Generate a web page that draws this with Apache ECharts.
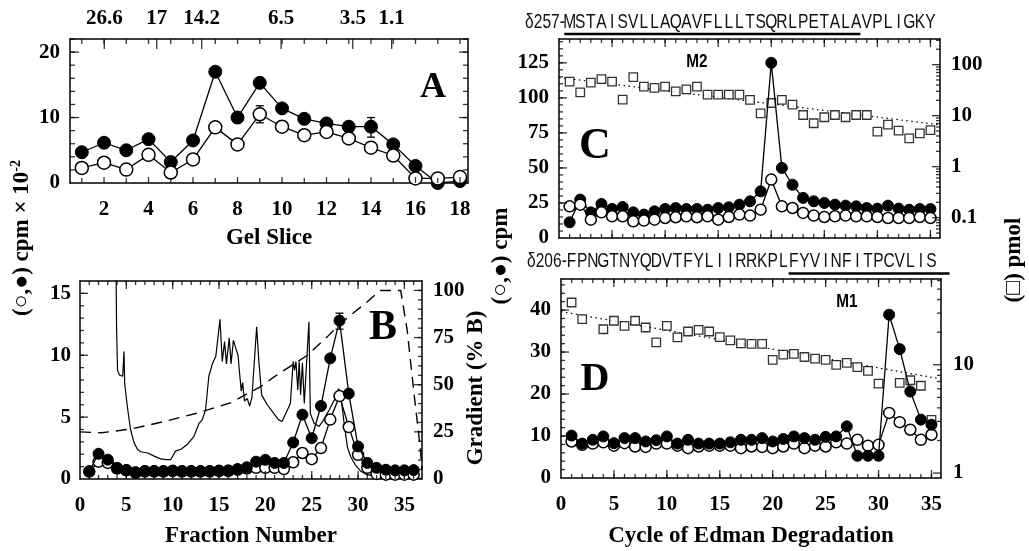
<!DOCTYPE html>
<html>
<head>
<meta charset="utf-8">
<script src="https://cdn.jsdelivr.net/npm/echarts@6/dist/echarts.min.js"></script>
<style>
  html, body { margin: 0; padding: 0; background: #fff; }
  #chart { width: 1029px; height: 551px; }
</style>
</head>
<body>
<div id="chart"></div>
<script>
// ---- panel A : gel slices ----
const sliceA = [1, 2, 3, 4, 5, 6, 7, 8, 9, 10, 11, 12, 13, 14, 15, 16, 17, 18];
const filledA = [4.7, 6.15, 5.0, 6.7, 3.2, 6.5, 17.0, 10.0, 15.3, 11.4, 9.8, 9.1, 8.6, 8.6, 5.9, 2.6, 0.0, 0.3];
const openA = [2.3, 3.1, 2.05, 4.3, 1.6, 3.6, 8.5, 5.9, 10.5, 8.6, 7.3, 7.8, 6.8, 5.4, 4.2, 0.7, 0.7, 0.9];
const errA = [[9, 9.2, 11.8], [13, 7.8, 9.2], [14, 7.0, 10.0]];
const mwPos = [2.01, 4.37, 6.39, 9.96, 13.18, 14.93];
const mwLabels = ['26.6', '17', '14.2', '6.5', '3.5', '1.1'];

// ---- panel B : HPLC fractions ----
const fracB = [1, 2, 3, 4, 5, 6, 7, 8, 9, 10, 11, 12, 13, 14, 15, 16, 17, 18, 19, 20, 21, 22, 23, 24, 25, 26, 27, 28, 29, 30, 31, 32, 33, 34, 35, 36];
const filledB = [0.62, 2.04, 1.56, 0.9, 0.72, 0.55, 0.65, 0.65, 0.65, 0.68, 0.65, 0.65, 0.65, 0.65, 0.68, 0.7, 0.8, 0.95, 1.4, 1.55, 1.3, 1.3, 2.95, 5.2, 3.3, 5.9, 9.75, 12.8, 6.9, 2.63, 1.3, 0.9, 0.75, 0.7, 0.7, 0.72];
const openB = [0.6, 1.4, 1.3, 0.85, 0.7, 0.5, 0.6, 0.6, 0.6, 0.65, 0.6, 0.6, 0.6, 0.6, 0.65, 0.65, 0.75, 0.85, 0.9, 0.9, 0.9, 0.8, 1.35, 2.1, 1.6, 2.5, 4.8, 6.7, 4.2, 1.95, 0.9, 0.4, 0.35, 0.35, 0.35, 0.35];
const errB = [[28, 12.1, 13.4]];
const traceB = [
  [3.85, 20], [3.95, 12.0], [4.05, 8.8], [4.25, 8.4], [4.45, 8.55], [4.6, 8.3], [4.75, 10.3], [4.82, 7.7],
  [5.1, 5.9], [5.45, 4.0], [5.85, 2.9], [6.2, 2.4], [6.55, 2.2], [7.3, 2.1], [8.0, 1.85], [8.7, 1.63],
  [9.3, 1.57], [9.8, 1.57], [10.3, 2.25], [10.9, 2.4], [11.6, 2.8], [12.3, 3.45], [12.85, 4.5], [13.2, 4.8],
  [13.55, 5.6], [13.9, 8.3], [14.3, 9.35], [14.65, 9.9], [15.1, 12.9], [15.35, 9.5], [15.6, 11.1], [15.8, 9.3],
  [16.1, 11.4], [16.3, 9.3], [16.55, 11.2], [16.8, 10.6], [17.05, 10.0], [17.25, 8.3], [17.4, 7.1], [17.55, 7.8],
  [17.75, 6.3], [18.05, 6.5], [18.3, 5.9], [18.55, 6.6], [18.85, 9.9], [19.06, 12.3], [19.3, 9.5], [19.6, 6.8],
  [20.2, 6.0], [20.9, 5.3], [21.4, 4.8], [21.8, 4.65], [22.2, 5.3], [22.7, 6.1], [23.0, 9.5], [23.15, 8.8],
  [23.3, 9.5], [23.5, 7.2], [23.65, 9.5], [23.8, 6.8], [24.0, 9.4], [24.2, 6.1], [24.7, 12.7], [24.85, 5.3],
  [25.25, 4.5], [25.8, 4.25], [26.3, 4.8], [26.9, 5.6], [27.45, 6.4], [27.9, 7.3], [28.1, 7.0], [28.5, 4.5],
  [28.85, 2.6], [29.2, 1.8], [29.7, 1.15], [30.3, 0.62], [30.95, 0.35], [32.5, 0.15], [34.6, 0.07], [36.9, 0.05]
];
const gradB = [
  [0, 25], [2.3, 24.5], [5.5, 26.5], [9.1, 30.5], [12.7, 35], [16.3, 40.5], [19.5, 49], [20.9, 54],
  [24.5, 65.5], [26.7, 75.5], [28.1, 82.5], [31, 94], [32.4, 100], [34.6, 100], [35.3, 79], [36.0, 47],
  [36.7, 17], [36.9, 5]
];

// ---- panels C and D : Edman cycles ----
const cycles = [1, 2, 3, 4, 5, 6, 7, 8, 9, 10, 11, 12, 13, 14, 15, 16, 17, 18, 19, 20, 21, 22, 23, 24, 25, 26, 27, 28, 29, 30, 31, 32, 33, 34, 35];
const filledC = [11.2, 27.4, 18.3, 24.3, 20.7, 22.1, 18.3, 16.7, 19.0, 20.7, 21.4, 20.7, 20.7, 20.2, 21.4, 21.9, 23.8, 26.2, 33.3, 125, 50, 38, 28.6, 26.2, 25, 23.8, 23.1, 22.6, 21.4, 21.0, 23.1, 21.0, 20.2, 20.7, 20.7];
const openC = [22.6, 23.8, 13.1, 18.3, 15.5, 15.5, 11.9, 12.4, 13.1, 14.3, 14.8, 15.5, 14.8, 15.5, 13.1, 15.0, 16.7, 16.0, 20.2, 41.7, 22.6, 21.4, 17.9, 16.0, 15.0, 15.5, 16.0, 15.5, 15.5, 15.0, 14.3, 14.3, 14.3, 15.0, 14.3];
const pmolC = [46.4, 28.5, 44.3, 51.8, 46.4, 20.6, 56.8, 37.1, 34.9, 37.1, 30.0, 32.8, 37.1, 25.8, 25.8, 25.8, 25.8, 20.3, 11.1, 17.7, 20.3, 16.4, 10.3, 7.1, 9.3, 10.3, 9.3, 10.3, 10.3, 4.85, 6.7, 5.1, 3.6, 4.5, 5.2];
const trendC = [[0, 56], [35.9, 6.6]];
const filledD = [10.1, 8.2, 9.1, 9.9, 8.3, 9.5, 9.5, 8.7, 9.0, 9.9, 8.2, 9.1, 8.2, 8.2, 8.2, 8.5, 9.1, 9.1, 9.5, 8.7, 9.3, 9.9, 9.5, 9.1, 9.8, 9.9, 12.3, 5.3, 5.3, 5.3, 38.9, 30.7, 20.6, 13.9, 12.7];
const openD = [8.7, 7.9, 8.2, 8.5, 7.7, 8.3, 7.5, 7.4, 8.2, 8.2, 7.7, 7.1, 7.5, 7.7, 7.7, 7.7, 7.1, 7.5, 7.4, 7.1, 7.5, 8.2, 7.1, 7.7, 7.5, 8.5, 8.2, 9.1, 7.7, 7.9, 15.5, 13.3, 11.5, 9.1, 10.3];
const pmolD = [37.6, 26.4, null, 21.3, 25.5, 22.9, 25.5, 22.1, 16.1, 22.9, 17.9, 20.3, 21.0, 20.3, 18.0, 16.8, 15.8, 15.6, 15.6, 11.1, 12.4, 12.6, 11.8, 11.4, 11.1, 10.0, 10.4, 9.5, 8.8, 6.7, null, 6.8, 7.2, 6.4, 3.1];
const trendD = [[0, 31], [35.9, 7.4]];
const seqC = 'MSTAISVLLAQAVFLLLTSQRLPETALAVPLIGKY';
const seqD = 'FPNGTNYQDVTFYLIIRRKPLFYVINFITPCVLIS';

// axis ranges
const rA = { x: [0.47, 18.36], y: [0, 22] };
const rB = { x: [0, 36.9], y: [0, 16], y2: [0, 105] };
const rC = { x: [0, 35.9], y: [0, 142], y2: [0.04, 318] };
const rD = { x: [0, 35.9], y: [0, 47.4], y2: [0.9, 62] };

// ---- helpers ----
const SERIF = '"Liberation Serif", "Times New Roman", serif';
const SANS = '"Liberation Sans", Arial, sans-serif';
const LBL = { color: '#000', fontFamily: SERIF, fontWeight: 'bold', fontSize: 21 };
const pts = (xs, ys) => xs.map((x, i) => [x, ys[i]]);
function range(a, b, s) {
  const r = [];
  for (let v = a; v <= b + 1e-9; v += s) r.push(+v.toFixed(4));
  return r;
}
function logMinors(lo, hi) {
  const r = [];
  for (let d = 0.01; d <= 1000; d *= 10) {
    for (let m = 2; m <= 9; m++) {
      const v = +(m * d).toPrecision(3);
      if (v > lo && v < hi) r.push(v);
    }
  }
  return r;
}
const numFmt = v => String(+(+v).toPrecision(3));

const xAxes = [], yAxes = [];
function addAxis(list, grid, pos, r, o) {
  o = o || {};
  const ax = {
    type: o.log ? 'log' : 'value',
    gridIndex: grid, position: pos, min: r[0], max: r[1],
    axisLine: { show: true, onZero: false, lineStyle: { color: '#000', width: 1.5 } },
    axisTick: { show: false },
    axisLabel: o.labels
      ? Object.assign({ show: true, customValues: o.labels, margin: o.margin, formatter: o.fmt }, LBL)
      : { show: false },
    splitLine: { show: false }
  };
  if (o.log) ax.logBase = 10;
  if (o.name) {
    ax.name = o.name; ax.nameLocation = 'middle'; ax.nameGap = o.nameGap;
    ax.nameTextStyle = { color: '#000', fontFamily: SERIF, fontWeight: 'bold', fontSize: 23 };
  }
  list.push(ax);
  return list.length - 1;
}

// A
const xA = addAxis(xAxes, 0, 'bottom', rA.x, { labels: range(2, 18, 2), margin: 16, name: 'Gel Slice', nameGap: 44 });
addAxis(xAxes, 0, 'top', rA.x, { labels: mwPos, margin: 10,
  fmt: v => {
    let k = 0;
    mwPos.forEach((p, i) => { if (Math.abs(p - v) < Math.abs(mwPos[k] - v)) k = i; });
    return mwLabels[k];
  } });
const yA = addAxis(yAxes, 0, 'left', rA.y, { labels: [0, 10, 20], margin: 10 });
addAxis(yAxes, 0, 'right', rA.y);
// B
const xB = addAxis(xAxes, 1, 'bottom', rB.x, { labels: range(0, 35, 5), margin: 16, name: 'Fraction Number', nameGap: 46 });
addAxis(xAxes, 1, 'top', rB.x);
const yB = addAxis(yAxes, 1, 'left', rB.y, { labels: [0, 5, 10, 15], margin: 9 });
const yB2 = addAxis(yAxes, 1, 'right', rB.y2, { labels: [0, 25, 50, 75, 100], margin: 11 });
// C
const xC = addAxis(xAxes, 2, 'bottom', rC.x);
addAxis(xAxes, 2, 'top', rC.x);
const yC = addAxis(yAxes, 2, 'left', rC.y, { labels: range(0, 125, 25), margin: 10 });
const yC2 = addAxis(yAxes, 2, 'right', rC.y2, { log: true, labels: [0.1, 1, 10, 100], margin: 11, fmt: numFmt });
// D
const xD = addAxis(xAxes, 3, 'bottom', rD.x, { labels: range(0, 35, 5), margin: 16, name: 'Cycle of Edman Degradation', nameGap: 47 });
addAxis(xAxes, 3, 'top', rD.x);
const yD = addAxis(yAxes, 3, 'left', rD.y, { labels: range(0, 40, 10), margin: 10 });
const yD2 = addAxis(yAxes, 3, 'right', rD.y2, { log: true, labels: [1, 10], margin: 12, fmt: numFmt });

// series builders
function dots(xi, yi, data, filled, size, z) {
  return {
    type: 'line', xAxisIndex: xi, yAxisIndex: yi, data: data, clip: false,
    symbol: 'circle', symbolSize: size, z: z,
    itemStyle: filled ? { color: '#000', borderColor: '#000', borderWidth: 1 }
                      : { color: '#fff', borderColor: '#000', borderWidth: 1.5 },
    lineStyle: { color: '#000', width: 1.3 }
  };
}
function squares(xi, yi, data) {
  return {
    type: 'scatter', xAxisIndex: xi, yAxisIndex: yi, data: data, symbol: 'rect', symbolSize: 8.5, z: 2,
    itemStyle: { color: '#fff', borderColor: '#000', borderWidth: 1.3 }
  };
}
function plainLine(xi, yi, data, type, width, z) {
  return {
    type: 'line', xAxisIndex: xi, yAxisIndex: yi, data: data, showSymbol: false, symbol: 'none',
    clip: true, z: z, lineStyle: { color: '#000', width: width, type: type }
  };
}
function errBars(xi, yi, data) {
  return {
    type: 'custom', xAxisIndex: xi, yAxisIndex: yi, data: data, z: 2,
    encode: { x: 0, y: [1, 2] },
    renderItem: function (params, api) {
      const a = api.coord([api.value(0), api.value(1)]);
      const b = api.coord([api.value(0), api.value(2)]);
      const st = { stroke: '#000', lineWidth: 1.3 };
      return { type: 'group', children: [
        { type: 'line', shape: { x1: a[0], y1: a[1], x2: b[0], y2: b[1] }, style: st },
        { type: 'line', shape: { x1: a[0] - 4, y1: a[1], x2: a[0] + 4, y2: a[1] }, style: st },
        { type: 'line', shape: { x1: b[0] - 4, y1: b[1], x2: b[0] + 4, y2: b[1] }, style: st }
      ] };
    }
  };
}
// inward tick marks as thin black bars, placed on the box edges through the axes
// edge: 'b' bottom, 't' top, 'l' left, 'r' right
function ticks(xi, yi, r, yr, edge, vals, len) {
  const horiz = edge === 'b' || edge === 't';
  const data = vals.map(v => horiz ? [v, edge === 'b' ? yr[0] : yr[1]] : [edge === 'l' ? r.x[0] : r.x[1], v]);
  const off = { b: [0, -len / 2], t: [0, len / 2], l: [len / 2, 0], r: [-len / 2, 0] }[edge];
  return {
    type: 'scatter', xAxisIndex: xi, yAxisIndex: yi, data: data, clip: false, silent: true, z: 6,
    symbol: 'rect', symbolSize: horiz ? [1.3, len] : [len, 1.3], symbolOffset: off,
    itemStyle: { color: '#000' }
  };
}

const series = [];
const add = s => { series.push(s); return series.length - 1; };
// A
add(ticks(xA, yA, rA, rA.y, 'b', range(2, 18, 2), 6));
add(ticks(xA, yA, rA, rA.y, 'b', range(1, 17, 2), 5));
add(ticks(xA, yA, rA, rA.y, 't', range(1, 18, 1), 5));
add(ticks(xA, yA, rA, rA.y, 't', mwPos, 10));
add(ticks(xA, yA, rA, rA.y, 'l', [10, 20], 9));
add(ticks(xA, yA, rA, rA.y, 'l', range(2, 22, 2), 5));
add(ticks(xA, yA, rA, rA.y, 'r', [10, 20], 9));
add(ticks(xA, yA, rA, rA.y, 'r', range(2, 22, 2), 5));
add(errBars(xA, yA, errA));
const sA = add(dots(xA, yA, pts(sliceA, filledA), true, 13, 3));
add(dots(xA, yA, pts(sliceA, openA), false, 13, 4));
// B
add(ticks(xB, yB, rB, rB.y, 'b', range(5, 35, 5), 8));
add(ticks(xB, yB, rB, rB.y, 'b', range(1, 36, 1), 4));
add(ticks(xB, yB, rB, rB.y, 't', range(5, 35, 5), 8));
add(ticks(xB, yB, rB, rB.y, 't', range(1, 36, 1), 4));
add(ticks(xB, yB, rB, rB.y, 'l', [5, 10, 15], 8));
add(ticks(xB, yB, rB, rB.y, 'l', range(1, 15, 1), 4));
add(ticks(xB, yB2, rB, rB.y2, 'r', [25, 50, 75, 100], 8));
add(ticks(xB, yB2, rB, rB.y2, 'r', range(5, 100, 5), 4));
add(plainLine(xB, yB, traceB, 'solid', 1.2, 2));
add(plainLine(xB, yB2, gradB, [11, 7], 1.4, 2));
add(errBars(xB, yB, errB));
add(dots(xB, yB, pts(fracB, openB), false, 11, 3));
add(dots(xB, yB, pts(fracB, filledB), true, 11, 4));
// C and D frames
[[xC, yC, yC2, rC, range(25, 125, 25), range(5, 140, 5), [0.1, 1, 10, 100]],
 [xD, yD, yD2, rD, range(10, 40, 10), range(2, 46, 2), [1, 10]]].forEach(p => {
  const [xi, yi, yi2, r, yMaj, yMin, logMaj] = p;
  add(ticks(xi, yi, r, r.y, 'b', range(5, 35, 5), 8));
  add(ticks(xi, yi, r, r.y, 'b', range(1, 35, 1), 4));
  add(ticks(xi, yi, r, r.y, 't', range(5, 35, 5), 8));
  add(ticks(xi, yi, r, r.y, 't', range(1, 35, 1), 4));
  add(ticks(xi, yi, r, r.y, 'l', yMaj, 8));
  add(ticks(xi, yi, r, r.y, 'l', yMin, 4));
  add(ticks(xi, yi2, r, r.y2, 'r', logMaj, 8));
  add(ticks(xi, yi2, r, r.y2, 'r', logMinors(r.y2[0], r.y2[1]), 4));
});
// C
add(plainLine(xC, yC2, trendC, [1.5, 3.5], 1.2, 1));
add(squares(xC, yC2, pts(cycles, pmolC)));
const sC = add(dots(xC, yC, pts(cycles, filledC), true, 11, 3));
add(dots(xC, yC, pts(cycles, openC), false, 11, 4));
// D
add(plainLine(xD, yD2, trendD, [1.5, 3.5], 1.2, 1));
add(squares(xD, yD2, pts(cycles, pmolD)));
add(dots(xD, yD, pts(cycles, openD), false, 11, 3));
const sD = add(dots(xD, yD, pts(cycles, filledD), true, 11, 4));

const chart = echarts.init(document.getElementById('chart'));
chart.setOption({
  animation: false,
  grid: [
    { left: 70, top: 39, width: 398, height: 144 },
    { left: 80, top: 281, width: 342, height: 198 },
    { left: 559, top: 39, width: 381, height: 199 },
    { left: 561, top: 279, width: 380, height: 199 }
  ],
  xAxis: xAxes,
  yAxis: yAxes,
  series: series
});

// pixel position of a data point in the coordinate system of series si
const P = (si, x, y) => chart.convertToPixel({ seriesIndex: si }, [x, y]);
const g = [];

// annotations: panel letters, rotated axis titles, sequences
function label(x, y, text, font, extra) {
  g.push(Object.assign({ type: 'text', x: x, y: y, z: 10,
    style: { text: text, font: font, fill: '#000', align: 'center', verticalAlign: 'middle' } }, extra || {}));
}
label(433, 88, 'A', 'bold 36px ' + SERIF);
label(383, 328, 'B', 'bold 42px ' + SERIF);
label(595, 147, 'C', 'bold 44px ' + SERIF);
label(595, 380, 'D', 'bold 40px ' + SERIF);
label(697, 62, 'M2', 'bold 18px ' + SANS, { scaleX: 0.85 });
label(847, 302, 'M1', 'bold 18px ' + SANS, { scaleX: 0.85 });

const rot = { rotation: Math.PI / 2 };
g.push({ type: 'text', x: 22, y: 238, rotation: Math.PI / 2, z: 10,
  style: { text: '{a|(○,●) cpm × 10}{s|-2}', align: 'center', verticalAlign: 'middle', fill: '#000',
    rich: { a: { font: 'bold 23px ' + SERIF, fill: '#000', lineHeight: 26 },
            s: { font: 'bold 14px ' + SERIF, fill: '#000', verticalAlign: 'top', lineHeight: 26 } } } });
label(476, 388, 'Gradient (% B)', 'bold 23px ' + SERIF, rot);
label(501, 256, '(○,●) cpm', 'bold 23px ' + SERIF, rot);
label(1014, 260, '(□) pmol', 'bold 23px ' + SERIF, rot);

function sequence(si, prefix, seq, y, ulFrom, ulTo, ulY) {
  const seqFont = '21px ' + SANS;
  const X = v => P(si, v, 1)[0];
  g.push({ type: 'text', x: X(0.55), y: y, scaleX: 0.74, z: 10,
    style: { text: prefix, font: seqFont, fill: '#111', align: 'right', verticalAlign: 'middle' } });
  seq.split('').forEach((ch, i) => {
    g.push({ type: 'text', x: X(i + 1), y: y, scaleX: 0.74, z: 10,
      style: { text: ch, font: seqFont, fill: '#111', align: 'center', verticalAlign: 'middle' } });
  });
  g.push({ type: 'line', z: 10, shape: { x1: X(ulFrom), y1: ulY, x2: X(ulTo), y2: ulY },
    style: { stroke: '#000', lineWidth: 2.5 } });
}
sequence(sC, 'δ257-', seqC, 22, 0.5, 28.4, 34);
sequence(sD, 'δ206-', seqD, 261, 21.5, 36.7, 273.5);

chart.setOption({ graphic: g });
window.addEventListener('resize', function () { chart.resize(); });
</script>
</body>
</html>
